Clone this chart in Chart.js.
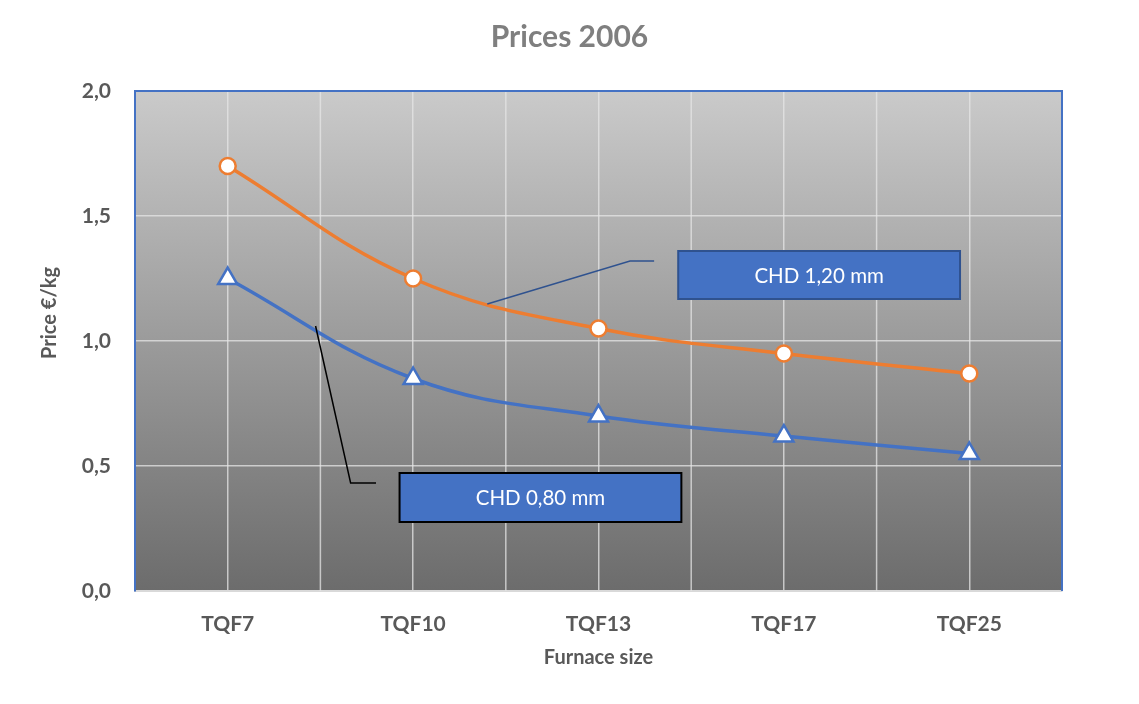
<!DOCTYPE html>
<html>
<head>
<meta charset="utf-8">
<script src="https://cdn.jsdelivr.net/npm/chart.js@4/dist/chart.umd.min.js"></script>
<style>
  html, body { margin: 0; padding: 0; background: #fff; }
  #wrap { width: 1139px; height: 704px; }
</style>
</head>
<body>
<div id="wrap"><canvas id="chart"></canvas></div>
<script>
// Data
const categories = ['TQF7', 'TQF10', 'TQF13', 'TQF17', 'TQF25'];
const chd120 = [1.70, 1.25, 1.05, 0.95, 0.87];
const chd080 = [1.25, 0.85, 0.70, 0.62, 0.55];
const yTicks = [0, 0.5, 1.0, 1.5, 2.0];

const FONT = 'Lato, "Open Sans", sans-serif';
const ORANGE = '#ED7D31';
const BLUE = '#4472C4';
const GRID = 'rgba(230,230,230,0.75)';

// Callout labels (in data units: x = category index, y = price)
const callouts = [
    { text: 'CHD 1,20 mm', line: [[1.40, 1.148], [2.17, 1.32], [2.30, 1.32]], lineColor: '#2F528F',
      box: [2.43, 1.36, 3.95, 1.168], border: '#2F528F' },
    { text: 'CHD 0,80 mm', line: [[0.474, 1.06], [0.663, 0.432], [0.80, 0.432]], lineColor: '#000',
      box: [0.927, 0.472, 2.447, 0.276], border: '#000' }
];

const plotDecor = {
    id: 'plotDecor',
    beforeDraw(chart) {
        const { ctx, chartArea: a } = chart;
        const g = ctx.createLinearGradient(0, a.top, 0, a.bottom);
        g.addColorStop(0, '#cacaca');
        g.addColorStop(1, '#6c6c6c');
        ctx.save();
        ctx.fillStyle = g;
        ctx.fillRect(a.left, a.top, a.right - a.left, a.bottom - a.top);
        ctx.restore();
    },
    beforeDatasetsDraw(chart) {
        // vertical grid lines between categories
        const { ctx, chartArea: a, scales } = chart;
        const x = scales.x;
        ctx.save();
        ctx.strokeStyle = GRID;
        ctx.lineWidth = 1.5;
        for (let i = 0; i < categories.length - 1; i++) {
            const px = x.getPixelForValue(i + 0.5);
            ctx.beginPath();
            ctx.moveTo(px, a.top);
            ctx.lineTo(px, a.bottom);
            ctx.stroke();
        }
        ctx.restore();
    },
    afterDraw(chart) {
        const { ctx, chartArea: a, scales } = chart;
        const x = scales.x, y = scales.y;
        ctx.save();
        // blue frame on top and right
        ctx.strokeStyle = BLUE;
        ctx.lineWidth = 2;
        ctx.beginPath();
        ctx.moveTo(a.left, a.top);
        ctx.lineTo(a.right, a.top);
        ctx.lineTo(a.right, a.bottom);
        ctx.stroke();

        // chart title
        ctx.fillStyle = '#7f7f7f';
        ctx.font = 'bold 30px ' + FONT;
        ctx.textAlign = 'center';
        ctx.textBaseline = 'middle';
        ctx.fillText('Prices 2006', chart.width / 2, 37);

        // y axis title (moved up, as in the original)
        ctx.save();
        ctx.translate(50, 313);
        ctx.rotate(-Math.PI / 2);
        ctx.fillStyle = '#595959';
        ctx.font = 'bold 20px ' + FONT;
        ctx.fillText('Price €/kg', 0, 0);
        ctx.restore();

        // callouts
        callouts.forEach(c => {
            ctx.strokeStyle = c.lineColor;
            ctx.lineWidth = 1.5;
            ctx.beginPath();
            c.line.forEach((p, i) => {
                const px = x.getPixelForValue(p[0]), py = y.getPixelForValue(p[1]);
                if (i === 0) ctx.moveTo(px, py); else ctx.lineTo(px, py);
            });
            ctx.stroke();
            const x0 = x.getPixelForValue(c.box[0]), y0 = y.getPixelForValue(c.box[1]);
            const x1 = x.getPixelForValue(c.box[2]), y1 = y.getPixelForValue(c.box[3]);
            ctx.fillStyle = BLUE;
            ctx.fillRect(x0, y0, x1 - x0, y1 - y0);
            ctx.strokeStyle = c.border;
            ctx.lineWidth = 2;
            ctx.strokeRect(x0, y0, x1 - x0, y1 - y0);
            ctx.fillStyle = '#fff';
            ctx.font = '20.5px ' + FONT;
            ctx.textAlign = 'center';
            ctx.textBaseline = 'middle';
            ctx.fillText(c.text, (x0 + x1) / 2, (y0 + y1) / 2 + 1);
        });
        ctx.restore();
    }
};

Chart.defaults.font.family = FONT;

new Chart(document.getElementById('chart').getContext('2d'), {
    type: 'line',
    data: {
        labels: categories,
        datasets: [
            {
                label: 'CHD 1,20 mm',
                data: chd120,
                borderColor: ORANGE,
                borderWidth: 3.5,
                tension: 0.4,
                pointStyle: 'circle',
                pointRadius: 8,
                pointBorderWidth: 2.5,
                pointBackgroundColor: '#fff',
                pointBorderColor: ORANGE
            },
            {
                label: 'CHD 0,80 mm',
                data: chd080,
                borderColor: BLUE,
                borderWidth: 3.5,
                tension: 0.4,
                pointStyle: 'triangle',
                pointRadius: 11,
                pointBorderWidth: 2.5,
                pointBackgroundColor: '#fff',
                pointBorderColor: BLUE
            }
        ]
    },
    options: {
        responsive: true,
        maintainAspectRatio: false,
        animation: false,
        layout: { padding: { left: 0, right: 77, top: 91, bottom: 0 } },
        plugins: {
            legend: { display: false },
            tooltip: { enabled: false },
            title: { display: false }
        },
        scales: {
            x: {
                offset: true,
                grid: { offset: false, color: GRID, lineWidth: 1.5, drawTicks: false, tickLength: 0 },
                border: { color: '#d9d9d9', width: 2 },
                ticks: { color: '#595959', font: { size: 21, weight: 'bold' }, padding: 21 },
                title: {
                    display: true,
                    text: 'Furnace size',
                    color: '#595959',
                    font: { size: 20, weight: 'bold' },
                    padding: { top: 0, bottom: 34 }
                },
                afterFit(scale) { scale.height = 113; }
            },
            y: {
                min: 0,
                max: 2,
                afterBuildTicks(scale) { scale.ticks = yTicks.map(v => ({ value: v })); },
                grid: { color: GRID, lineWidth: 1.5, drawTicks: false, tickLength: 0 },
                border: { color: BLUE, width: 2 },
                ticks: {
                    color: '#595959',
                    font: { size: 21, weight: 'bold' },
                    padding: 24,
                    callback: v => v.toFixed(1).replace('.', ',')
                },
                afterFit(scale) { scale.width = 135; }
            }
        }
    },
    plugins: [plotDecor]
});
</script>
</body>
</html>
